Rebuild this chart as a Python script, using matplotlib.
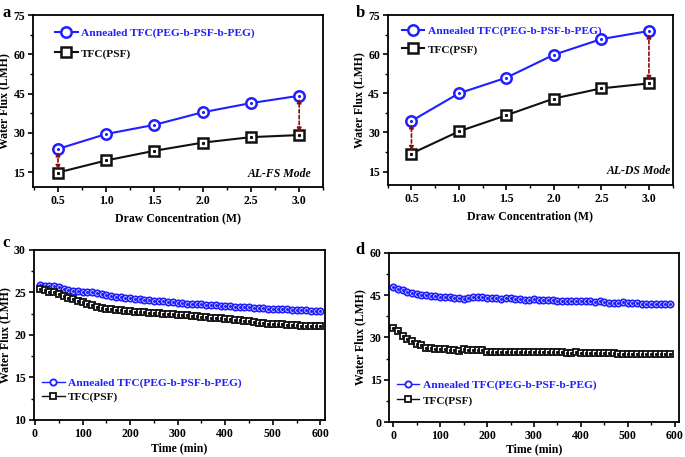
import numpy as np
import matplotlib
matplotlib.use("Agg")
import matplotlib.pyplot as plt
from matplotlib.ticker import MultipleLocator

plt.rcParams["font.family"] = ["Liberation Serif", "DejaVu Serif"]
plt.rcParams["font.weight"] = "bold"

blue = "#1f1fff"
black = "#111111"
arrow_red = "#8b0a0a"

label_blue = "Annealed TFC(PEG-b-PSF-b-PEG)"
label_black = "TFC(PSF)"

# panels a/b: flux vs draw concentration
conc = [0.5, 1.0, 1.5, 2.0, 2.5, 3.0]
fs_annealed = [23.9, 29.6, 33.1, 37.9, 41.4, 44.2]
fs_psf = [14.9, 19.5, 23.2, 26.3, 28.4, 29.2]
ds_annealed = [34.4, 45.0, 51.0, 59.8, 65.8, 68.9]
ds_psf = [21.9, 30.4, 36.6, 43.0, 46.9, 48.8]

# panel c: AL-FS long run
time_c = [10, 20, 30, 40, 50, 60, 70, 80, 90, 100,
          110, 120, 130, 140, 150, 160, 170, 180, 190, 200,
          210, 220, 230, 240, 250, 260, 270, 280, 290, 300,
          310, 320, 330, 340, 350, 360, 370, 380, 390, 400,
          410, 420, 430, 440, 450, 460, 470, 480, 490, 500,
          510, 520, 530, 540, 550, 560, 570, 580, 590, 600]
c_annealed = [25.9, 25.8, 25.8, 25.8, 25.6, 25.4, 25.3, 25.2, 25.2, 25.1,
              25.1, 25.0, 24.9, 24.8, 24.7, 24.6, 24.5, 24.45, 24.4, 24.3,
              24.25, 24.2, 24.15, 24.1, 24.05, 24.0, 23.95, 23.9, 23.85, 23.8,
              23.75, 23.7, 23.7, 23.65, 23.6, 23.55, 23.5, 23.5, 23.45, 23.4,
              23.4, 23.35, 23.3, 23.3, 23.25, 23.2, 23.2, 23.15, 23.1, 23.1,
              23.05, 23.0, 23.0, 22.95, 22.95, 22.9, 22.9, 22.85, 22.85, 22.8]
c_psf = [25.4, 25.3, 25.1, 25.0, 24.8, 24.6, 24.4, 24.2, 24.0, 23.9,
         23.7, 23.5, 23.3, 23.2, 23.1, 23.0, 22.95, 22.9, 22.85, 22.8,
         22.75, 22.7, 22.65, 22.6, 22.6, 22.55, 22.5, 22.5, 22.45, 22.4,
         22.35, 22.3, 22.25, 22.2, 22.15, 22.1, 22.05, 22.0, 21.95, 21.9,
         21.85, 21.8, 21.75, 21.7, 21.6, 21.5, 21.45, 21.4, 21.35, 21.3,
         21.3, 21.25, 21.2, 21.2, 21.15, 21.1, 21.1, 21.05, 21.0, 21.0]

# panel d: AL-DS long run
time_d = [0, 10, 20, 30, 40, 50, 60, 70, 80, 90,
          100, 110, 120, 130, 140, 150, 160, 170, 180, 190,
          200, 210, 220, 230, 240, 250, 260, 270, 280, 290,
          300, 310, 320, 330, 340, 350, 360, 370, 380, 390,
          400, 410, 420, 430, 440, 450, 460, 470, 480, 490,
          500, 510, 520, 530, 540, 550, 560, 570, 580, 590]
d_annealed = [47.7, 47.2, 46.7, 46.2, 45.8, 45.4, 45.1, 44.9, 44.7, 44.6,
              44.4, 44.3, 44.2, 44.0, 43.8, 43.7, 44.1, 44.2, 44.2, 44.2,
              44.1, 44.0, 44.0, 43.7, 43.9, 43.8, 43.6, 43.5, 43.4, 43.2,
              43.6, 43.3, 43.2, 43.1, 43.1, 43.0, 43.0, 43.0, 43.0, 43.0,
              43.0, 42.9, 42.8, 42.7, 42.9, 42.4, 42.3, 42.3, 42.2, 42.4,
              42.2, 42.2, 42.1, 42.0, 42.0, 42.0, 41.9, 42.0, 41.8, 41.9]
d_psf = [33.2, 32.3, 30.6, 29.5, 28.9, 27.7, 27.5, 26.4, 26.3, 26.1,
         26.0, 25.8, 25.7, 25.7, 25.3, 25.8, 25.6, 25.6, 25.5, 25.4,
         24.7, 24.8, 24.8, 25.0, 24.9, 24.8, 24.8, 24.7, 24.8, 24.8,
         24.9, 24.8, 24.9, 25.0, 24.9, 24.8, 24.8, 24.6, 24.4, 24.8,
         24.5, 24.5, 24.5, 24.5, 24.5, 24.4, 24.5, 24.4, 24.3, 24.3,
         24.3, 24.3, 24.3, 24.2, 24.2, 24.3, 24.2, 24.2, 24.2, 24.2]


def style_axes(ax, xmaj, xmin, ymaj, ymin):
    for sp in ax.spines.values():
        sp.set_linewidth(1.3)
    ax.xaxis.set_major_locator(MultipleLocator(xmaj))
    ax.xaxis.set_minor_locator(MultipleLocator(xmin))
    ax.yaxis.set_major_locator(MultipleLocator(ymaj))
    ax.yaxis.set_minor_locator(MultipleLocator(ymin))
    ax.tick_params(which="major", direction="out", length=3.5, width=1.2, labelsize=8.5, pad=2)
    ax.tick_params(which="minor", direction="out", length=2, width=1.0)
    for lab in ax.get_xticklabels() + ax.get_yticklabels():
        lab.set_fontweight("bold")


def plot_series(ax, x, y, color, marker, ms, mew, lw, label):
    ax.plot(x, y, color=color, marker=marker, ms=ms, mfc="white", mec=color,
            mew=mew, lw=lw, label=label)
    # small centre dot as in the original markers
    ax.plot(x, y, ls="none", marker=marker, ms=1.2, color=color)


def add_legend(ax, loc, anchor, spacing):
    leg = ax.legend(loc=loc, bbox_to_anchor=anchor, frameon=False,
                    prop={"weight": "bold", "size": 8.2}, handlelength=2.0,
                    handletextpad=0.3, labelspacing=spacing, borderaxespad=0)
    leg.get_texts()[0].set_color(blue)
    leg.get_texts()[1].set_color(black)


def add_arrows(ax, x_idx, top, bottom):
    for i in x_idx:
        ax.annotate("", xy=(conc[i], top[i]), xytext=(conc[i], bottom[i]),
                    arrowprops=dict(arrowstyle="<|-|>", ls=(0, (2, 1.5)),
                                    color=arrow_red, lw=1.2,
                                    mutation_scale=6, shrinkA=2, shrinkB=2))


fig = plt.figure(figsize=(6.85, 4.57), dpi=100)

ax_a = fig.add_axes([0.048, 0.591, 0.424, 0.376])
ax_b = fig.add_axes([0.566, 0.595, 0.416, 0.372])
ax_c = fig.add_axes([0.049, 0.081, 0.425, 0.372])
ax_d = fig.add_axes([0.568, 0.076, 0.423, 0.371])

# a
plot_series(ax_a, conc, fs_annealed, blue, "o", 7.5, 1.8, 1.5, label_blue)
plot_series(ax_a, conc, fs_psf, black, "s", 7.5, 1.8, 1.5, label_black)
add_arrows(ax_a, [0, 5], fs_annealed, fs_psf)
ax_a.set_xlim(0.24, 3.25)
ax_a.set_ylim(9.4, 75)
style_axes(ax_a, 0.5, 0.25, 15, 7.5)
ax_a.set_xlabel("Draw Concentration (M)", fontsize=8.5, fontweight="bold", labelpad=4)
ax_a.set_ylabel("Water Flux (LMH)", fontsize=8.5, fontweight="bold", labelpad=2)
ax_a.text(0.96, 0.04, "AL-FS Mode", transform=ax_a.transAxes, ha="right",
          va="bottom", fontsize=8.5, fontweight="bold", style="italic")
add_legend(ax_a, "upper left", (0.06, 0.952), 0.9)

# b
plot_series(ax_b, conc, ds_annealed, blue, "o", 7.5, 1.8, 1.5, label_blue)
plot_series(ax_b, conc, ds_psf, black, "s", 7.5, 1.8, 1.5, label_black)
add_arrows(ax_b, [0, 5], ds_annealed, ds_psf)
ax_b.set_xlim(0.25, 3.25)
ax_b.set_ylim(9.8, 75)
style_axes(ax_b, 0.5, 0.25, 15, 7.5)
ax_b.set_xlabel("Draw Concentration (M)", fontsize=8.5, fontweight="bold", labelpad=4)
ax_b.set_ylabel("Water Flux (LMH)", fontsize=8.5, fontweight="bold", labelpad=2)
ax_b.text(0.995, 0.045, "AL-DS Mode", transform=ax_b.transAxes, ha="right",
          va="bottom", fontsize=8.5, fontweight="bold", style="italic")
add_legend(ax_b, "upper left", (0.033, 0.963), 0.73)

# c
plot_series(ax_c, time_c, c_annealed, blue, "o", 4.5, 1.3, 1.0, label_blue)
plot_series(ax_c, time_c, c_psf, black, "s", 4.5, 1.3, 1.0, label_black)
ax_c.set_xlim(-3, 609)
ax_c.set_ylim(10, 30)
style_axes(ax_c, 100, 50, 5, 2.5)
ax_c.set_xlabel("Time (min)", fontsize=8.5, fontweight="bold", labelpad=2)
ax_c.set_ylabel("Water Flux (LMH)", fontsize=8.5, fontweight="bold", labelpad=2)
add_legend(ax_c, "lower left", (0.013, 0.079), 0.3)

# d
plot_series(ax_d, time_d, d_annealed, blue, "o", 4.5, 1.3, 1.0, label_blue)
plot_series(ax_d, time_d, d_psf, black, "s", 4.5, 1.3, 1.0, label_black)
ax_d.set_xlim(-9, 609)
ax_d.set_ylim(0, 60)
style_axes(ax_d, 100, 50, 15, 7.5)
ax_d.set_xlabel("Time (min)", fontsize=8.5, fontweight="bold", labelpad=1)
ax_d.set_ylabel("Water Flux (LMH)", fontsize=8.5, fontweight="bold", labelpad=2)
add_legend(ax_d, "lower left", (0.01, 0.072), 0.46)

# panel letters
for x, y, s in [(0.003, 0.972, "a"), (0.519, 0.972, "b"),
                (0.003, 0.468, "c"), (0.519, 0.452, "d")]:
    fig.text(x, y, s, fontsize=12, fontweight="bold", va="center")

fig.savefig("out.png", dpi=100)
